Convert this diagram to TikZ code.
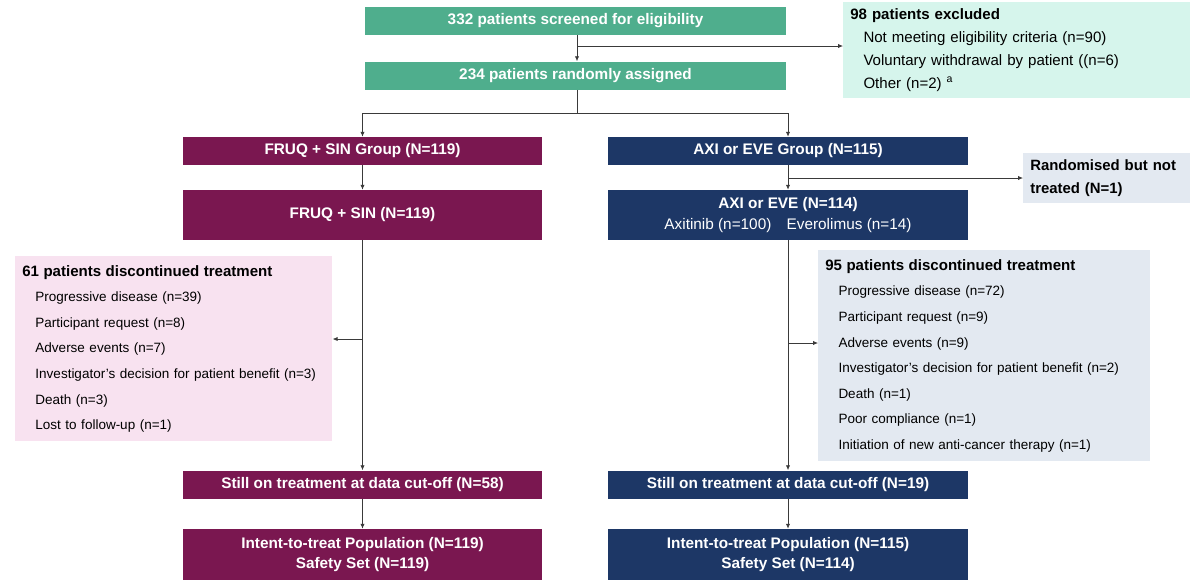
\documentclass[tikz,border=0pt]{standalone}
\usepackage{fontspec}
\setmainfont{Liberation Sans}
\usetikzlibrary{arrows.meta, positioning}

\definecolor{trialgreen}{HTML}{4FAE8D}
\definecolor{trialmaroon}{HTML}{7A1750}
\definecolor{trialnavy}{HTML}{1D3766}
\definecolor{mintbg}{HTML}{D6F5EC}
\definecolor{pinkbg}{HTML}{F8E2F0}
\definecolor{bluebg}{HTML}{E3E9F1}
\definecolor{linegray}{HTML}{3A3A3A}

\tikzset{
    % coloured boxes with white bold text
    hdrbox/.style={fill=#1, text=white, font=\fontsize{10.9}{14.5}\selectfont\bfseries,
        align=center, inner sep=0pt, minimum width=8.975cm, minimum height=0.7cm},
    % light boxes with the reasons
    notebox/.style={fill=#1, text=black, font=\fontsize{9.6}{18.2}\selectfont,
        align=left, inner xsep=0.175cm, inner ysep=0pt},
    arr/.style={draw=linegray, line width=0.5pt, -{Latex[length=3.5pt, width=3pt]}},
    ln/.style={draw=linegray, line width=0.5pt}
}

\newcommand{\itm}{\hspace*{0.33cm}}
\newcommand{\ttl}[1]{{\fontsize{10.7}{18.2}\selectfont\bfseries #1}}

\begin{document}
\begin{tikzpicture}[x=0.025cm, y=-0.025cm]

    \useasboundingbox (0,0) rectangle (1200,587);

    % ==========================================
    % SCREENING AND RANDOMISATION
    % ==========================================
    \node[hdrbox=trialgreen, minimum width=10.525cm] (screen) at (575.5,21) {332 patients screened for eligibility};
    \node[hdrbox=trialgreen, minimum width=10.525cm] (rand) at (575.5,75.5) {234 patients randomly assigned};

    % excluded patients
    \node[notebox=mintbg, text width=8.325cm, minimum height=2.4cm, anchor=north west,
          font=\fontsize{10.7}{16.3}\selectfont] (excl) at (843,2)
        {\textbf{98 patients excluded}\\
         \itm Not meeting eligibility criteria (n=90)\\
         \itm Voluntary withdrawal by patient ((n=6)\\
         \itm Other (n=2) \textsuperscript{a}};

    % ==========================================
    % FRUQ + SIN ARM (LEFT)
    % ==========================================
    \node[hdrbox=trialmaroon] (fgrp) at (362.5,151) {FRUQ + SIN Group (N=119)};
    \node[hdrbox=trialmaroon, minimum height=1.25cm] (fsin) at (362.5,215) {FRUQ + SIN (N=119)};

    \node[notebox=pinkbg, text width=7.575cm, minimum height=4.625cm, anchor=north west] (fdisc) at (15,256)
        {\ttl{61 patients discontinued treatment}\\
         \itm Progressive disease (n=39)\\
         \itm Participant request (n=8)\\
         \itm Adverse events (n=7)\\
         \itm Investigator’s decision for patient benefit (n=3)\\
         \itm Death (n=3)\\
         \itm Lost to follow-up (n=1)};

    \node[hdrbox=trialmaroon] (fstill) at (362.5,484.5) {Still on treatment at data cut-off (N=58)};
    \node[hdrbox=trialmaroon, minimum height=1.275cm] (fitt) at (362.5,554.5)
        {Intent-to-treat Population (N=119)\\Safety Set (N=119)};

    % ==========================================
    % AXI OR EVE ARM (RIGHT)
    % ==========================================
    \node[hdrbox=trialnavy] (agrp) at (788,151) {AXI or EVE Group (N=115)};
    \node[hdrbox=trialnavy, minimum height=1.25cm,
          font=\fontsize{10.9}{15.6}\selectfont\bfseries] (asin) at (788,215)
        {AXI or EVE (N=114)\\{\mdseries Axitinib (n=100)\quad Everolimus (n=14)}};

    % randomised but not treated
    \node[notebox=bluebg, text width=3.825cm, minimum height=1.25cm, anchor=north west,
          font=\fontsize{10.6}{16.3}\selectfont\bfseries] (notr) at (1023,153)
        {Randomised but not\\treated (N=1)};

    \node[notebox=bluebg, text width=7.95cm, minimum height=5.275cm, anchor=north west] (adisc) at (818,250)
        {\ttl{95 patients discontinued treatment}\\
         \itm Progressive disease (n=72)\\
         \itm Participant request (n=9)\\
         \itm Adverse events (n=9)\\
         \itm Investigator’s decision for patient benefit (n=2)\\
         \itm Death (n=1)\\
         \itm Poor compliance (n=1)\\
         \itm Initiation of new anti-cancer therapy (n=1)};

    \node[hdrbox=trialnavy] (astill) at (788,484.5) {Still on treatment at data cut-off (N=19)};
    \node[hdrbox=trialnavy, minimum height=1.275cm] (aitt) at (788,554.5)
        {Intent-to-treat Population (N=115)\\Safety Set (N=114)};

    % ==========================================
    % CONNECTORS
    % ==========================================
    \coordinate (exclsplit) at (577,46);
    \coordinate (randsplit) at (577,113);
    \coordinate (notrsplit) at (788,178);
    \coordinate (fdiscsplit) at (362.5,339);
    \coordinate (adiscsplit) at (788,343);

    \draw[arr] (screen.south -| exclsplit) -- (rand.north -| exclsplit);
    \draw[arr] (exclsplit) -- (exclsplit -| excl.west);

    \draw[ln] (rand.south -| randsplit) -- (randsplit);
    \draw[arr] (randsplit) -| (fgrp.north);
    \draw[arr] (randsplit) -| (agrp.north);

    \draw[arr] (fgrp) -- (fsin);
    \draw[arr] (fsin) -- (fstill);
    \draw[arr] (fdiscsplit) -- (fdiscsplit -| fdisc.east);
    \draw[arr] (fstill) -- (fitt);

    \draw[arr] (agrp) -- (asin);
    \draw[arr] (notrsplit) -- (notrsplit -| notr.west);
    \draw[arr] (asin) -- (astill);
    \draw[arr] (adiscsplit) -- (adiscsplit -| adisc.west);
    \draw[arr] (astill) -- (aitt);

\end{tikzpicture}
\end{document}
